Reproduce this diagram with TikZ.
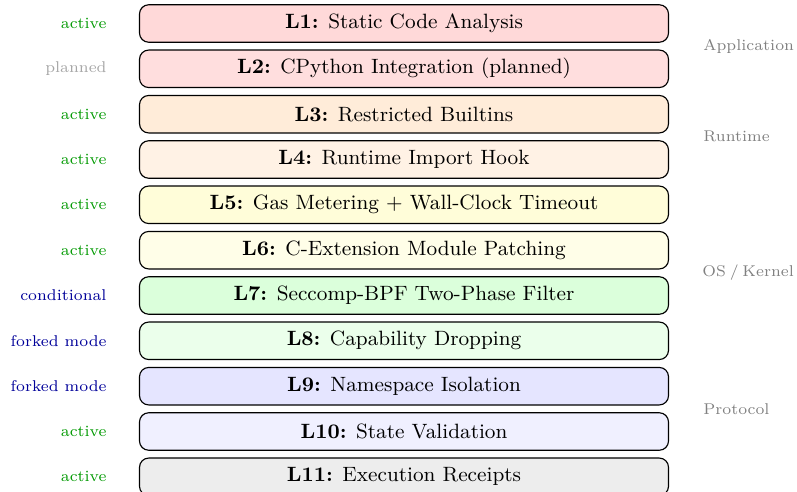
\documentclass[tikz,border=0pt]{standalone}
\usepackage{tikz}

% small side labels, set slightly narrower than plain \scriptsize
\newcommand{\sidetext}[1]{\scalebox{0.97}{#1}}

\tikzset{
  layer/.style={draw=black, line width=0.5pt, rounded corners=4pt,
    minimum width=230pt, minimum height=16.3pt, inner sep=0pt,
    font=\small, text=black},
  status/.style={anchor=east, font=\scriptsize, inner sep=0pt},
  group/.style={anchor=west, font=\scriptsize, text=gray, inner sep=0pt},
  st-active/.style={status, text=green!60!black},
  st-planned/.style={status, text=gray!70},
  st-cond/.style={status, text=blue!60!black},
}

\begin{document}
\begin{tikzpicture}[x=0.4348pt, y=-0.4348pt]
  \useasboundingbox (0,0) rectangle (797,492);

  % layer stack
  \node[layer, fill=red!15]    (l1)  at (404, 23.5)  {\textbf{L1:} Static Code Analysis};
  \node[layer, fill=red!13]    (l2)  at (404, 68.8)  {\textbf{L2:} CPython Integration (planned)};
  \node[layer, fill=orange!15] (l3)  at (404, 114.2) {\textbf{L3:} Restricted Builtins};
  \node[layer, fill=orange!10] (l4)  at (404, 159.5) {\textbf{L4:} Runtime Import Hook};
  \node[layer, fill=yellow!15] (l5)  at (404, 204.8) {\textbf{L5:} Gas Metering + Wall-Clock Timeout};
  \node[layer, fill=yellow!9]  (l6)  at (404, 250.2) {\textbf{L6:} C-Extension Module Patching};
  \node[layer, fill=green!14]  (l7)  at (404, 295.5) {\textbf{L7:} Seccomp-BPF Two-Phase Filter};
  \node[layer, fill=green!8]   (l8)  at (404, 340.8) {\textbf{L8:} Capability Dropping};
  \node[layer, fill=blue!10]   (l9)  at (404, 386.2) {\textbf{L9:} Namespace Isolation};
  \node[layer, fill=blue!6]    (l10) at (404, 431.5) {\textbf{L10:} State Validation};
  \node[layer, fill=black!7]   (l11) at (404, 476.8) {\textbf{L11:} Execution Receipts};

  % status column
  \node[st-active]  (s1)  at (107, 23.5)  {\sidetext{active}};
  \node[st-planned] (s2)  at (107, 68.8)  {\sidetext{planned}};
  \node[st-active]  (s3)  at (107, 114.2) {\sidetext{active}};
  \node[st-active]  (s4)  at (107, 159.5) {\sidetext{active}};
  \node[st-active]  (s5)  at (107, 204.8) {\sidetext{active}};
  \node[st-active]  (s6)  at (107, 250.2) {\sidetext{active}};
  \node[st-cond]    (s7)  at (107, 295.5) {\sidetext{conditional}};
  \node[st-cond]    (s8)  at (107, 340.8) {\sidetext{forked mode}};
  \node[st-cond]    (s9)  at (107, 386.2) {\sidetext{forked mode}};
  \node[st-active]  (s10) at (107, 431.5) {\sidetext{active}};
  \node[st-active]  (s11) at (107, 476.8) {\sidetext{active}};

  % group column
  \node[group] (g1) at (703, 46.2)  {\sidetext{Application}};
  \node[group] (g2) at (703, 136.8) {\sidetext{Runtime}};
  \node[group] (g3) at (702, 272.8) {\sidetext{OS\hspace{1.7pt}/\hspace{1.7pt}Kernel}};
  \node[group] (g4) at (703, 408.8) {\sidetext{Protocol}};
\end{tikzpicture}
\end{document}
